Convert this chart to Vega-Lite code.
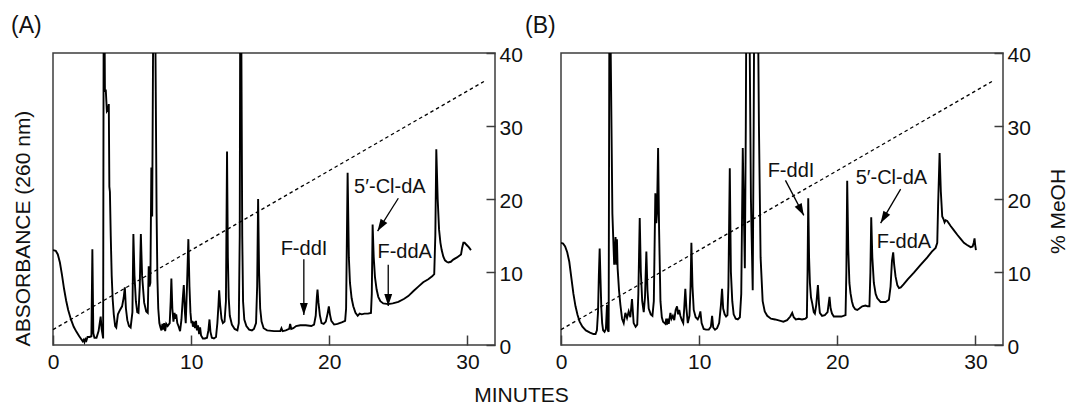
{
  "$schema": "https://vega.github.io/schema/vega-lite/v6.json",
  "background": "white",
  "padding": {"left": 10, "top": 13, "right": 0, "bottom": 1},
  "title": {"text": "MINUTES", "orient": "bottom", "anchor": "middle", "fontSize": 21, "baseline": "alphabetic", "offset": 29, "dx": -18},
  "spacing": 0,
  "datasets": {
    "chromA": [
      {"t":0,"v":13.0},{"t":0.2,"v":12.9},{"t":0.35,"v":12.4},{"t":0.5,"v":11.3},{"t":0.65,"v":9.6},{"t":0.8,"v":7.7},{"t":0.95,"v":6.1},{"t":1.1,"v":4.8},{"t":1.3,"v":3.5},{"t":1.5,"v":2.5},{"t":1.7,"v":1.8},{"t":1.9,"v":1.2},{"t":2.05,"v":0.8},{"t":2.15,"v":0.5},{"t":2.22,"v":0.7},{"t":2.28,"v":0.4},{"t":2.35,"v":0.8},{"t":2.42,"v":0.6},{"t":2.5,"v":1.1},{"t":2.65,"v":1.1},{"t":2.78,"v":1.2},{"t":2.85,"v":13.1},{"t":2.92,"v":1.6},{"t":3.0,"v":1.0},{"t":3.15,"v":1.0},{"t":3.3,"v":1.9},{"t":3.45,"v":3.9},{"t":3.52,"v":2.2},{"t":3.63,"v":0.9},{"t":3.68,"v":60},{"t":3.76,"v":34.7},{"t":3.82,"v":35.0},{"t":3.9,"v":32.0},{"t":3.98,"v":32.2},{"t":4.04,"v":33.0},{"t":4.08,"v":21.7},{"t":4.12,"v":21.0},{"t":4.18,"v":15.0},{"t":4.25,"v":9.5},{"t":4.32,"v":6.3},{"t":4.4,"v":4.2},{"t":4.5,"v":2.6},{"t":4.58,"v":2.4},{"t":4.7,"v":4.2},{"t":4.85,"v":4.8},{"t":5.0,"v":5.3},{"t":5.12,"v":6.5},{"t":5.2,"v":7.9},{"t":5.28,"v":5.0},{"t":5.38,"v":3.4},{"t":5.5,"v":2.6},{"t":5.62,"v":2.4},{"t":5.75,"v":4.5},{"t":5.82,"v":15.2},{"t":5.9,"v":9.5},{"t":6.0,"v":6.0},{"t":6.1,"v":4.5},{"t":6.19,"v":4.4},{"t":6.28,"v":8.0},{"t":6.36,"v":15.2},{"t":6.45,"v":9.5},{"t":6.6,"v":5.8},{"t":6.75,"v":4.6},{"t":6.86,"v":4.4},{"t":6.93,"v":10.8},{"t":6.98,"v":8.0},{"t":7.05,"v":8.5},{"t":7.12,"v":24.3},{"t":7.18,"v":17.6},{"t":7.3,"v":60},{"t":7.42,"v":40},{"t":7.5,"v":18},{"t":7.56,"v":9},{"t":7.62,"v":5},{"t":7.7,"v":3.0},{"t":7.78,"v":2.4},{"t":7.85,"v":2.0},{"t":7.92,"v":2.9},{"t":7.98,"v":2.1},{"t":8.05,"v":3.0},{"t":8.12,"v":1.9},{"t":8.2,"v":2.9},{"t":8.3,"v":2.6},{"t":8.45,"v":3.0},{"t":8.52,"v":6.0},{"t":8.57,"v":9.1},{"t":8.64,"v":5.0},{"t":8.72,"v":3.2},{"t":8.8,"v":4.4},{"t":8.86,"v":3.6},{"t":8.92,"v":4.2},{"t":9.0,"v":3.0},{"t":9.1,"v":2.5},{"t":9.2,"v":1.9},{"t":9.3,"v":3.5},{"t":9.4,"v":6.5},{"t":9.47,"v":8.2},{"t":9.55,"v":4.5},{"t":9.61,"v":3.0},{"t":9.7,"v":8.0},{"t":9.8,"v":14.5},{"t":9.88,"v":8.0},{"t":9.95,"v":4.5},{"t":10.02,"v":3.0},{"t":10.08,"v":3.3},{"t":10.13,"v":2.5},{"t":10.2,"v":3.2},{"t":10.28,"v":2.3},{"t":10.35,"v":3.3},{"t":10.42,"v":2.0},{"t":10.5,"v":2.7},{"t":10.58,"v":1.5},{"t":10.65,"v":2.4},{"t":10.72,"v":1.3},{"t":10.85,"v":0.9},{"t":11.0,"v":0.9},{"t":11.15,"v":1.0},{"t":11.25,"v":2.0},{"t":11.33,"v":3.5},{"t":11.4,"v":1.8},{"t":11.5,"v":1.0},{"t":11.65,"v":0.9},{"t":11.8,"v":1.1},{"t":11.9,"v":3.0},{"t":11.98,"v":5.5},{"t":12.03,"v":7.5},{"t":12.1,"v":5.5},{"t":12.2,"v":3.6},{"t":12.3,"v":3.0},{"t":12.42,"v":3.2},{"t":12.52,"v":6.0},{"t":12.6,"v":26.5},{"t":12.66,"v":12},{"t":12.72,"v":6.5},{"t":12.8,"v":4.0},{"t":12.95,"v":2.8},{"t":13.15,"v":2.2},{"t":13.35,"v":2.0},{"t":13.45,"v":3.0},{"t":13.52,"v":15},{"t":13.57,"v":60},{"t":13.64,"v":40},{"t":13.7,"v":15},{"t":13.76,"v":6},{"t":13.85,"v":3.5},{"t":14.0,"v":2.6},{"t":14.2,"v":2.1},{"t":14.4,"v":2.0},{"t":14.55,"v":2.2},{"t":14.7,"v":3.0},{"t":14.78,"v":8},{"t":14.85,"v":20.0},{"t":14.92,"v":10},{"t":15.0,"v":5.0},{"t":15.1,"v":3.2},{"t":15.25,"v":2.3},{"t":15.5,"v":2.0},{"t":16.0,"v":1.9},{"t":16.45,"v":1.9},{"t":16.54,"v":2.3},{"t":16.62,"v":1.9},{"t":16.85,"v":2.0},{"t":17.1,"v":2.2},{"t":17.17,"v":2.9},{"t":17.25,"v":2.2},{"t":17.4,"v":2.3},{"t":17.6,"v":2.6},{"t":17.9,"v":2.7},{"t":18.3,"v":2.7},{"t":18.7,"v":2.6},{"t":18.9,"v":2.8},{"t":19.02,"v":4.0},{"t":19.1,"v":6.5},{"t":19.15,"v":7.6},{"t":19.22,"v":5.8},{"t":19.32,"v":4.1},{"t":19.44,"v":3.0},{"t":19.6,"v":2.9},{"t":19.75,"v":3.2},{"t":19.88,"v":4.3},{"t":19.97,"v":5.3},{"t":20.05,"v":4.2},{"t":20.15,"v":3.3},{"t":20.35,"v":2.8},{"t":20.6,"v":2.9},{"t":20.9,"v":3.1},{"t":21.15,"v":3.3},{"t":21.22,"v":5.0},{"t":21.33,"v":23.6},{"t":21.42,"v":12.0},{"t":21.5,"v":8.5},{"t":21.62,"v":6.4},{"t":21.74,"v":5.3},{"t":21.9,"v":4.4},{"t":22.06,"v":4.0},{"t":22.2,"v":4.3},{"t":22.35,"v":4.2},{"t":22.55,"v":4.3},{"t":22.8,"v":4.3},{"t":23.02,"v":4.4},{"t":23.08,"v":7.0},{"t":23.14,"v":16.5},{"t":23.22,"v":12.0},{"t":23.31,"v":9.3},{"t":23.43,"v":7.6},{"t":23.55,"v":6.6},{"t":23.7,"v":6.0},{"t":23.91,"v":5.7},{"t":24.27,"v":5.6},{"t":24.6,"v":5.7},{"t":25.0,"v":5.9},{"t":25.4,"v":6.3},{"t":25.72,"v":6.7},{"t":26.1,"v":7.4},{"t":26.45,"v":8.0},{"t":26.8,"v":8.6},{"t":27.17,"v":9.0},{"t":27.45,"v":9.4},{"t":27.6,"v":9.7},{"t":27.68,"v":15},{"t":27.75,"v":26.8},{"t":27.85,"v":20.0},{"t":27.95,"v":15.8},{"t":28.05,"v":14.0},{"t":28.14,"v":13.0},{"t":28.26,"v":12.1},{"t":28.38,"v":11.6},{"t":28.5,"v":11.4},{"t":28.62,"v":11.3},{"t":28.8,"v":11.4},{"t":28.98,"v":11.7},{"t":29.25,"v":12.0},{"t":29.54,"v":12.4},{"t":29.62,"v":13.3},{"t":29.71,"v":14.0},{"t":29.8,"v":14.0},{"t":29.95,"v":13.7},{"t":30.1,"v":13.4},{"t":30.26,"v":13.0}
    ],
    "chromB": [
      {"t":0,"v":14.0},{"t":0.15,"v":13.9},{"t":0.3,"v":13.5},{"t":0.45,"v":12.7},{"t":0.6,"v":11.4},{"t":0.75,"v":9.2},{"t":0.9,"v":7.0},{"t":1.05,"v":5.3},{"t":1.2,"v":4.1},{"t":1.35,"v":3.2},{"t":1.55,"v":2.5},{"t":1.8,"v":2.0},{"t":2.1,"v":1.7},{"t":2.35,"v":1.5},{"t":2.5,"v":1.5},{"t":2.6,"v":2.0},{"t":2.68,"v":4.5},{"t":2.74,"v":9.5},{"t":2.8,"v":13.2},{"t":2.86,"v":9.0},{"t":2.92,"v":5.0},{"t":2.98,"v":3.0},{"t":3.05,"v":2.0},{"t":3.15,"v":1.8},{"t":3.25,"v":2.2},{"t":3.33,"v":5.5},{"t":3.4,"v":2.0},{"t":3.45,"v":1.8},{"t":3.52,"v":60},{"t":3.6,"v":40},{"t":3.72,"v":18},{"t":3.85,"v":11.0},{"t":3.95,"v":14.8},{"t":4.0,"v":11.0},{"t":4.05,"v":14.5},{"t":4.1,"v":10.5},{"t":4.2,"v":7.5},{"t":4.3,"v":5.5},{"t":4.42,"v":3.6},{"t":4.54,"v":3.0},{"t":4.66,"v":4.4},{"t":4.78,"v":3.7},{"t":4.9,"v":4.6},{"t":5.02,"v":3.8},{"t":5.14,"v":6.3},{"t":5.26,"v":3.0},{"t":5.4,"v":2.5},{"t":5.52,"v":2.8},{"t":5.6,"v":7.0},{"t":5.7,"v":17.4},{"t":5.78,"v":10.0},{"t":5.88,"v":6.0},{"t":5.99,"v":4.5},{"t":6.08,"v":6.5},{"t":6.18,"v":12.8},{"t":6.26,"v":7.5},{"t":6.35,"v":5.0},{"t":6.5,"v":4.2},{"t":6.62,"v":4.0},{"t":6.72,"v":6.0},{"t":6.83,"v":20.8},{"t":6.9,"v":16.7},{"t":6.95,"v":18.0},{"t":7.03,"v":27.0},{"t":7.1,"v":16},{"t":7.2,"v":6.0},{"t":7.3,"v":3.8},{"t":7.39,"v":3.2},{"t":7.5,"v":3.0},{"t":7.56,"v":2.9},{"t":7.62,"v":3.6},{"t":7.68,"v":2.8},{"t":7.75,"v":3.6},{"t":7.8,"v":2.9},{"t":7.92,"v":4.4},{"t":8.0,"v":3.6},{"t":8.1,"v":4.0},{"t":8.2,"v":3.4},{"t":8.3,"v":4.8},{"t":8.4,"v":5.3},{"t":8.48,"v":4.2},{"t":8.56,"v":4.8},{"t":8.64,"v":4.0},{"t":8.75,"v":3.4},{"t":8.85,"v":3.0},{"t":8.92,"v":5.0},{"t":9.0,"v":7.7},{"t":9.08,"v":5.0},{"t":9.18,"v":3.0},{"t":9.3,"v":4.0},{"t":9.38,"v":8.0},{"t":9.44,"v":14.0},{"t":9.52,"v":8.0},{"t":9.61,"v":4.8},{"t":9.75,"v":3.8},{"t":9.9,"v":3.5},{"t":10.0,"v":3.9},{"t":10.09,"v":4.6},{"t":10.18,"v":3.0},{"t":10.33,"v":2.2},{"t":10.5,"v":2.1},{"t":10.7,"v":2.1},{"t":10.85,"v":2.5},{"t":10.94,"v":4.0},{"t":11.02,"v":2.4},{"t":11.15,"v":2.1},{"t":11.3,"v":2.3},{"t":11.45,"v":3.0},{"t":11.58,"v":5.5},{"t":11.66,"v":7.7},{"t":11.74,"v":5.0},{"t":11.85,"v":4.2},{"t":11.95,"v":3.9},{"t":12.05,"v":4.1},{"t":12.12,"v":8.0},{"t":12.22,"v":24.2},{"t":12.3,"v":10.0},{"t":12.4,"v":6.0},{"t":12.5,"v":4.2},{"t":12.65,"v":3.6},{"t":12.8,"v":3.5},{"t":12.95,"v":3.8},{"t":13.05,"v":7.0},{"t":13.16,"v":27.0},{"t":13.24,"v":18.0},{"t":13.31,"v":10.5},{"t":13.38,"v":30},{"t":13.45,"v":60},{"t":13.58,"v":60},{"t":13.75,"v":20},{"t":13.88,"v":7.5},{"t":13.95,"v":30},{"t":14.02,"v":60},{"t":14.2,"v":60},{"t":14.33,"v":30},{"t":14.45,"v":12},{"t":14.6,"v":6.0},{"t":14.75,"v":4.6},{"t":14.93,"v":4.0},{"t":15.2,"v":3.6},{"t":15.5,"v":3.5},{"t":15.89,"v":3.3},{"t":16.1,"v":3.2},{"t":16.37,"v":3.4},{"t":16.6,"v":3.9},{"t":16.74,"v":4.4},{"t":16.85,"v":3.8},{"t":17.0,"v":3.5},{"t":17.22,"v":3.6},{"t":17.45,"v":3.5},{"t":17.7,"v":3.6},{"t":17.8,"v":3.8},{"t":17.85,"v":10},{"t":17.9,"v":20.1},{"t":17.96,"v":12.0},{"t":18.02,"v":8.5},{"t":18.1,"v":6.5},{"t":18.19,"v":5.7},{"t":18.3,"v":4.5},{"t":18.38,"v":4.3},{"t":18.48,"v":5.5},{"t":18.6,"v":8.2},{"t":18.68,"v":5.6},{"t":18.74,"v":4.4},{"t":18.9,"v":4.0},{"t":19.1,"v":4.1},{"t":19.3,"v":4.5},{"t":19.44,"v":6.6},{"t":19.52,"v":5.0},{"t":19.62,"v":4.3},{"t":19.75,"v":3.9},{"t":20.0,"v":3.9},{"t":20.3,"v":3.9},{"t":20.6,"v":4.1},{"t":20.66,"v":10},{"t":20.72,"v":22.5},{"t":20.8,"v":13.0},{"t":20.88,"v":8.5},{"t":20.96,"v":7.1},{"t":21.06,"v":6.0},{"t":21.16,"v":5.3},{"t":21.3,"v":4.9},{"t":21.45,"v":4.8},{"t":21.6,"v":5.0},{"t":21.81,"v":5.3},{"t":22.05,"v":5.4},{"t":22.2,"v":5.3},{"t":22.33,"v":5.3},{"t":22.4,"v":10},{"t":22.46,"v":17.5},{"t":22.54,"v":12},{"t":22.65,"v":8.5},{"t":22.78,"v":7.0},{"t":22.9,"v":6.4},{"t":23.14,"v":5.9},{"t":23.5,"v":5.9},{"t":23.74,"v":6.2},{"t":23.86,"v":8.0},{"t":23.96,"v":11.5},{"t":24.05,"v":12.7},{"t":24.12,"v":11.0},{"t":24.22,"v":9.4},{"t":24.35,"v":8.2},{"t":24.47,"v":7.8},{"t":24.6,"v":7.9},{"t":24.8,"v":8.3},{"t":25.1,"v":9.0},{"t":25.55,"v":9.9},{"t":26.0,"v":10.9},{"t":26.52,"v":12.0},{"t":26.85,"v":12.8},{"t":27.12,"v":13.3},{"t":27.24,"v":14.0},{"t":27.3,"v":19},{"t":27.41,"v":26.3},{"t":27.5,"v":21.0},{"t":27.6,"v":17.6},{"t":27.7,"v":17.2},{"t":27.77,"v":16.8},{"t":27.85,"v":17.1},{"t":27.96,"v":17.0},{"t":28.1,"v":16.6},{"t":28.21,"v":16.3},{"t":28.45,"v":15.7},{"t":28.69,"v":15.1},{"t":28.95,"v":14.5},{"t":29.17,"v":14.0},{"t":29.4,"v":13.7},{"t":29.66,"v":13.4},{"t":29.8,"v":13.5},{"t":29.88,"v":14.0},{"t":29.94,"v":14.6},{"t":29.98,"v":13.8},{"t":30.04,"v":13.0}
    ],
    "gradient": [{"t":0,"v":2.1},{"t":31.2,"v":36.1}],
    "labelsA": [{"name":"F-ddI","t":18.17,"v":13.2},{"name":"5′-Cl-dA","t":24.39,"v":21.7},{"name":"F-ddA","t":25.46,"v":12.7}],
    "arrowsA": [{"name":"F-ddI","t":18.16,"v":11.75,"t2":18.16,"v2":4.1},{"name":"5′-Cl-dA","t":25.0,"v":20.1,"t2":23.5,"v2":15.6},{"name":"F-ddA","t":24.27,"v":11.0,"t2":24.27,"v2":5.35}],
    "labelsB": [{"name":"F-ddI","t":16.65,"v":23.9},{"name":"5′-Cl-dA","t":23.92,"v":22.94},{"name":"F-ddA","t":24.83,"v":14.07}],
    "arrowsB": [{"name":"F-ddI","t":16.25,"v":22.55,"t2":17.58,"v2":17.75},{"name":"5′-Cl-dA","t":24.59,"v":21.36,"t2":23.14,"v2":16.7}]
  },
  "hconcat": [
    {
      "width": 442,
      "height": 292,
      "title": {"text": "(A)", "anchor": "start", "frame": "group", "dx": -42, "offset": -11, "baseline": "alphabetic", "fontSize": 23},
      "encoding": {
        "x": {"field": "t", "type": "quantitative", "scale": {"domain": [0, 32], "nice": false}, "axis": {"orient": "bottom", "values": [0, 10, 20, 30], "title": null, "tickSize": 10, "offset": -10, "labelPadding": 6, "labelFlush": false, "zindex": 2}}
      },
      "resolve": {"axis": {"y": "independent"}},
      "layer": [
        {
          "data": {"name": "chromA"},
          "mark": {"type": "line", "clip": true, "color": "black", "strokeWidth": 1.9},
          "encoding": {
            "y": {"field": "v", "type": "quantitative", "scale": {"domain": [0, 40], "nice": false}, "axis": {"orient": "left", "title": "ABSORBANCE (260 nm)", "titleX": -30, "titleY": 175, "titleAngle": -90, "titleBaseline": "middle", "titleAlign": "center"}}
          }
        },
        {
          "data": {"name": "gradient"},
          "mark": {"type": "line", "color": "black", "strokeWidth": 1.3, "strokeDash": [3.5, 3]},
          "encoding": {
            "y": {"field": "v", "type": "quantitative", "scale": {"domain": [0, 40], "nice": false}, "axis": {"orient": "right", "values": [0, 10, 20, 30, 40], "title": null}}
          }
        },
        {
          "data": {"name": "arrowsA"},
          "mark": {"type": "rule", "color": "black", "strokeWidth": 1.3},
          "encoding": {
            "y": {"field": "v", "type": "quantitative", "scale": {"domain": [0, 40], "nice": false}, "axis": null},
            "x2": {"field": "t2"},
            "y2": {"field": "v2"}
          }
        },
        {
          "data": {"name": "arrowsA"},
          "transform": [{"filter": {"field": "name", "oneOf": ["F-ddI", "F-ddA"]}}],
          "mark": {"type": "point", "shape": "M -0.33 -1 L 0.33 -1 L 0 0 Z", "size": 576, "filled": true, "color": "black", "opacity": 1, "strokeWidth": 0, "angle": 0},
          "encoding": {
            "x": {"field": "t2", "type": "quantitative"},
            "y": {"field": "v2", "type": "quantitative", "scale": {"domain": [0, 40], "nice": false}, "axis": null}
          }
        },
        {
          "data": {"name": "arrowsA"},
          "transform": [{"filter": {"field": "name", "oneOf": ["5′-Cl-dA"]}}],
          "mark": {"type": "point", "shape": "M -0.33 -1 L 0.33 -1 L 0 0 Z", "size": 576, "filled": true, "color": "black", "opacity": 1, "strokeWidth": 0, "angle": 32},
          "encoding": {
            "x": {"field": "t2", "type": "quantitative"},
            "y": {"field": "v2", "type": "quantitative", "scale": {"domain": [0, 40], "nice": false}, "axis": null}
          }
        },
        {
          "data": {"name": "labelsA"},
          "mark": {"type": "text", "fontSize": 20, "align": "center", "baseline": "middle", "color": "#111"},
          "encoding": {
            "y": {"field": "v", "type": "quantitative", "scale": {"domain": [0, 40], "nice": false}, "axis": null},
            "text": {"field": "name"}
          }
        }
      ]
    },
    {
      "width": 442,
      "height": 292,
      "title": {"text": "(B)", "anchor": "start", "frame": "group", "dx": -36, "offset": -11, "baseline": "alphabetic", "fontSize": 23},
      "encoding": {
        "x": {"field": "t", "type": "quantitative", "scale": {"domain": [0, 32], "nice": false}, "axis": {"orient": "bottom", "values": [0, 10, 20, 30], "title": null, "tickSize": 10, "offset": -10, "labelPadding": 6, "labelFlush": false, "zindex": 2}}
      },
      "resolve": {"axis": {"y": "independent"}},
      "layer": [
        {
          "data": {"name": "chromB"},
          "mark": {"type": "line", "clip": true, "color": "black", "strokeWidth": 1.9},
          "encoding": {
            "y": {"field": "v", "type": "quantitative", "scale": {"domain": [0, 40], "nice": false}, "axis": null}
          }
        },
        {
          "data": {"name": "gradient"},
          "mark": {"type": "line", "color": "black", "strokeWidth": 1.3, "strokeDash": [3.5, 3]},
          "encoding": {
            "y": {"field": "v", "type": "quantitative", "scale": {"domain": [0, 40], "nice": false}, "axis": {"orient": "right", "values": [0, 10, 20, 30, 40], "title": "% MeOH", "titleX": 55, "titleY": 158, "titleAngle": 270, "titleBaseline": "middle", "titleAlign": "center"}}
          }
        },
        {
          "data": {"name": "arrowsB"},
          "mark": {"type": "rule", "color": "black", "strokeWidth": 1.3},
          "encoding": {
            "y": {"field": "v", "type": "quantitative", "scale": {"domain": [0, 40], "nice": false}, "axis": null},
            "x2": {"field": "t2"},
            "y2": {"field": "v2"}
          }
        },
        {
          "data": {"name": "arrowsB"},
          "transform": [{"filter": {"field": "name", "oneOf": ["F-ddI"]}}],
          "mark": {"type": "point", "shape": "M -0.33 -1 L 0.33 -1 L 0 0 Z", "size": 576, "filled": true, "color": "black", "opacity": 1, "strokeWidth": 0, "angle": -28},
          "encoding": {
            "x": {"field": "t2", "type": "quantitative"},
            "y": {"field": "v2", "type": "quantitative", "scale": {"domain": [0, 40], "nice": false}, "axis": null}
          }
        },
        {
          "data": {"name": "arrowsB"},
          "transform": [{"filter": {"field": "name", "oneOf": ["5′-Cl-dA"]}}],
          "mark": {"type": "point", "shape": "M -0.33 -1 L 0.33 -1 L 0 0 Z", "size": 576, "filled": true, "color": "black", "opacity": 1, "strokeWidth": 0, "angle": 31},
          "encoding": {
            "x": {"field": "t2", "type": "quantitative"},
            "y": {"field": "v2", "type": "quantitative", "scale": {"domain": [0, 40], "nice": false}, "axis": null}
          }
        },
        {
          "data": {"name": "labelsB"},
          "mark": {"type": "text", "fontSize": 20, "align": "center", "baseline": "middle", "color": "#111"},
          "encoding": {
            "y": {"field": "v", "type": "quantitative", "scale": {"domain": [0, 40], "nice": false}, "axis": null},
            "text": {"field": "name"}
          }
        }
      ]
    }
  ],
  "config": {
    "font": "Liberation Sans",
    "view": {"stroke": "#3c3c3c", "strokeWidth": 1.5},
    "axis": {"grid": false, "domain": false, "labelFont": "Liberation Sans", "labelFontSize": 21, "labelColor": "#111", "tickColor": "#3c3c3c", "tickWidth": 1.5, "titleFont": "Liberation Sans", "titleFontSize": 21, "titleFontWeight": "normal", "titleColor": "#111"},
    "axisRight": {"tickSize": -9, "labelPadding": 13, "labelOffset": 2.5},
    "axisLeft": {"ticks": false, "labels": false},
    "title": {"font": "Liberation Sans", "fontWeight": "normal", "color": "#111"}
  }
}
